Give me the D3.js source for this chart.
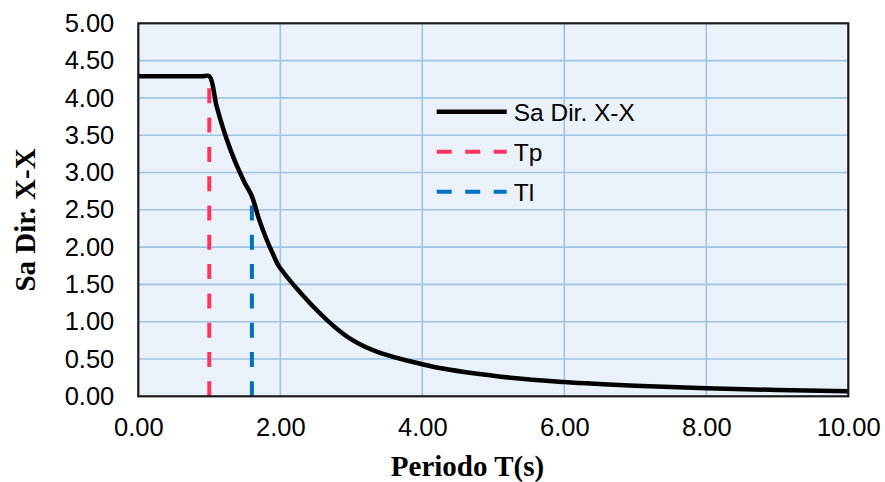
<!DOCTYPE html>
<html>
<head>
<meta charset="utf-8">
<script src="https://cdn.jsdelivr.net/npm/d3@7"></script>
<style>
  html, body { margin: 0; padding: 0; background: #ffffff; }
  svg { display: block; }
</style>
</head>
<body>
<svg id="chart" width="885" height="482"></svg>
<script>
// ---- data ----
const periods = [0, 0.1, 0.2, 0.3, 0.4, 0.5, 0.6, 0.7, 0.8, 0.9, 1.0,
                 1.1, 1.2, 1.3, 1.4, 1.5, 1.6, 1.7, 1.8, 1.9, 2.0,
                 3, 4, 5, 6, 7, 8, 9, 10];
const saValues = [4.29, 4.29, 4.29, 4.29, 4.29, 4.29, 4.29, 4.29, 4.29, 4.29, 4.29,
                  3.90, 3.575, 3.30, 3.064, 2.86, 2.681, 2.375, 2.119, 1.901, 1.716,
                  0.763, 0.429, 0.275, 0.191, 0.140, 0.107, 0.085, 0.069];
const tpLine = { T: 1.0, top: 4.29 };
const tlLine = { T: 1.6, top: 2.68 };
const xTicks = [0, 2, 4, 6, 8, 10];
const yTicks = [0, 0.5, 1, 1.5, 2, 2.5, 3, 3.5, 4, 4.5, 5];
const seriesNames = ["Sa Dir. X-X", "Tp", "Tl"];
const seriesColors = ["#000000", "#FF3360", "#0070C0"];
const xTitle = "Periodo T(s)";
const yTitle = "Sa Dir. X-X";

// ---- layout ----
const pL = 138.3, pR = 848.3, pT = 23.3, pB = 396.3;
const svg = d3.select("#chart");
const x = d3.scaleLinear().domain([0, 10]).range([pL, pR]);
const y = d3.scaleLinear().domain([0, 5]).range([pB, pT]);

const sans = "'Liberation Sans', Arial, Helvetica, sans-serif";
const serif = "'Liberation Serif', 'Times New Roman', serif";

// plot background
svg.append("rect").attr("x", pL).attr("y", pT)
  .attr("width", pR - pL).attr("height", pB - pT)
  .attr("fill", "#EAF1F9");

// gridlines
const grid = svg.append("g").attr("stroke", "#9DC3E6").attr("stroke-width", 1.6);
yTicks.filter(v => v > 0 && v < 5).forEach(v => {
  grid.append("line").attr("x1", pL).attr("x2", pR)
    .attr("y1", y(v)).attr("y2", y(v));
});
xTicks.filter(v => v > 0 && v < 10).forEach(v => {
  grid.append("line").attr("y1", pT).attr("y2", pB)
    .attr("x1", x(v)).attr("x2", x(v));
});

// axes
const yAxis = svg.append("g").attr("transform", `translate(${pL},0)`)
  .call(d3.axisLeft(y).tickValues(yTicks).tickFormat(d3.format(".2f")).tickSize(0).tickPadding(24));
const xAxis = svg.append("g").attr("transform", `translate(0,${pB})`)
  .call(d3.axisBottom(x).tickValues(xTicks).tickFormat(d3.format(".2f")).tickSize(0).tickPadding(22));
[yAxis, xAxis].forEach(a => {
  a.select(".domain").remove();
  a.selectAll("text").attr("font-family", sans).attr("font-size", 25.5).attr("fill", "#000");
});

// dashed period lines
const dash = "15,14.3";
[[tpLine, seriesColors[1]], [tlLine, seriesColors[2]]].forEach(([d, c]) => {
  svg.append("line")
    .attr("x1", x(d.T)).attr("x2", x(d.T))
    .attr("y1", y(0)).attr("y2", y(d.top))
    .attr("stroke", c).attr("stroke-width", 4)
    .attr("stroke-dasharray", dash);
});

// spectrum curve
const pts = periods.map((t, i) => [t, saValues[i]]);
const line = d3.line().x(d => x(d[0])).y(d => y(d[1])).curve(d3.curveCatmullRom.alpha(0.5));
svg.append("path").datum(pts)
  .attr("d", line)
  .attr("fill", "none").attr("stroke", seriesColors[0])
  .attr("stroke-width", 4.5).attr("stroke-linejoin", "round");

// plot border
svg.append("rect").attr("x", pL).attr("y", pT)
  .attr("width", pR - pL).attr("height", pB - pT)
  .attr("fill", "none").attr("stroke", "#1a1a1a").attr("stroke-width", 2.2);

// legend
const legX = 436.7, legLen = 70, legY0 = 111.7, legStep = 40;
seriesNames.forEach((name, i) => {
  const ly = legY0 + i * legStep;
  const l = svg.append("line").attr("x1", legX).attr("x2", legX + legLen)
    .attr("y1", ly).attr("y2", ly)
    .attr("stroke", seriesColors[i]).attr("stroke-width", i === 0 ? 4.5 : 4);
  if (i > 0) l.attr("stroke-dasharray", "15,13.5");
  svg.append("text").attr("x", legX + legLen + 7).attr("y", ly + 8.8)
    .attr("font-family", sans).attr("font-size", 24.5).attr("fill", "#000")
    .text(name);
});

// axis titles
svg.append("text").attr("x", 467.5).attr("y", 476)
  .attr("text-anchor", "middle").attr("font-family", serif)
  .attr("font-weight", "bold").attr("font-size", 29).attr("fill", "#000")
  .text(xTitle);
svg.append("text")
  .attr("transform", `translate(35,220) rotate(-90)`)
  .attr("text-anchor", "middle").attr("font-family", serif)
  .attr("font-weight", "bold").attr("font-size", 29).attr("fill", "#000")
  .text(yTitle);
</script>
</body>
</html>
